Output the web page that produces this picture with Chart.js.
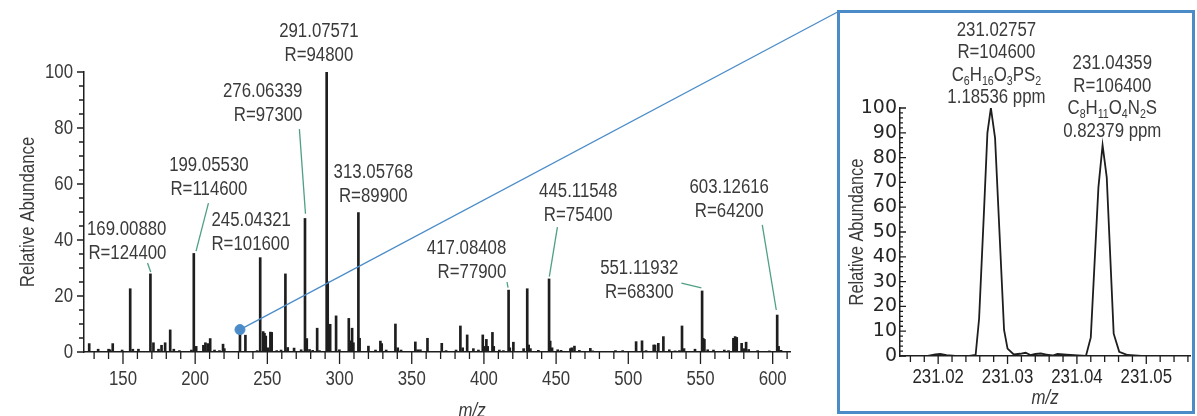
<!DOCTYPE html>
<html>
<head>
<meta charset="utf-8">
<script src="https://cdn.jsdelivr.net/npm/chart.js@4.4.1/dist/chart.umd.min.js"></script>
<style>
  html, body { margin: 0; padding: 0; background: #fff; }
  #wrap { position: relative; width: 1197px; height: 416px; overflow: hidden; }
  #spectrum { position: absolute; left: 0; top: 0; }
  #insetBox { position: absolute; left: 837px; top: 10px; width: 352px; height: 398px; border: 3px solid #4b8cc8; background: #fff; }
  #inset { display: block; }
</style>
</head>
<body>
<div id="wrap">
  <canvas id="spectrum" width="1197" height="416"></canvas>
  <div id="insetBox"><canvas id="inset" width="352" height="398"></canvas></div>
</div>
<script>
const SANS = '"Liberation Sans", Arial, sans-serif';
const WIDE = '"DejaVu Sans", sans-serif';
const SQUEEZE = 0.82; // Arial squeezed to a narrow face
const INK = '#1e1e1e';
const TEXT = '#3a3a3a';
const BLUE = '#4b8cc8';
const GREEN = '#4f9f86';

// full scan, centroid sticks (m/z, relative abundance)
const peakMz = [
  126.6, 132.8, 140.0, 141.0, 142.9, 149.4, 155.0, 156.8, 160.7, 169.0088,
  171.1, 174.6, 176.7, 179.2, 182.7, 185.2, 189.1, 197.4, 199.0553, 200.7,
  205.7, 207.1, 208.7, 210.4, 213.4, 216.8, 219.3, 220.2, 231.03, 234.8,
  242.9, 245.0432, 247.1, 248.0, 248.9, 250.3, 252.1, 253.0, 256.5, 259.5,
  262.5, 264.1, 268.5, 273.4, 276.0634, 277.3, 279.2, 281.4, 284.5, 286.1,
  291.0757, 291.8, 293.5, 297.6, 299.9, 306.4, 307.4, 308.7, 309.6, 313.0577,
  313.9, 320.0, 324.9, 328.3, 329.2, 332.3, 338.7, 340.3, 342.6, 352.5,
  354.1, 356.0, 360.9, 370.8, 373.8, 380.7, 383.7, 385.3, 388.4, 392.7,
  396.2, 399.2, 400.1, 401.7, 402.6, 405.9, 406.8, 410.7, 413.5, 417.0841,
  417.9, 420.4, 427.5, 430.0, 431.0, 432.2, 437.7, 445.1155, 445.9, 447.2,
  451.1, 453.4, 459.9, 460.8, 462.7, 466.1, 473.7, 475.3, 491.1, 496.1,
  505.4, 509.5, 512.3, 517.6, 518.5, 520.8, 524.3, 528.4, 532.4, 535.4,
  537.2, 538.6, 546.2, 551.1193, 551.9, 552.7, 555.0, 559.0, 566.5, 569.4,
  572.8, 574.0, 575.1, 578.5, 580.0, 581.6, 583.4, 589.6, 597.7, 603.1262,
  604.1, 605.8
];
const peakAbundance = [
  3.0, 1.0, 1.0, 0.8, 3.0, 0.7, 22.6, 1.0, 1.0, 27.9,
  3.3, 1.0, 2.4, 3.3, 7.9, 1.0, 0.5, 0.7, 35.2, 2.0,
  2.4, 3.3, 3.0, 4.8, 0.7, 0.5, 2.8, 1.2, 8.0, 6.0,
  0.5, 33.7, 7.3, 6.7, 5.7, 1.5, 7.1, 7.0, 0.5, 0.7,
  27.9, 1.6, 1.4, 0.8, 47.7, 4.8, 0.9, 0.6, 8.5, 0.5,
  100, 25.0, 9.9, 12.9, 0.8, 12.0, 4.0, 8.5, 3.3, 49.8,
  4.9, 2.1, 0.7, 3.9, 3.0, 0.7, 10.0, 1.5, 0.7, 3.6,
  0.8, 0.8, 4.9, 3.1, 0.5, 0.7, 9.3, 1.5, 6.1, 1.2,
  0.7, 6.1, 2.0, 4.5, 2.0, 7.0, 2.0, 0.7, 0.5, 22.1,
  1.5, 3.5, 1.2, 22.6, 2.5, 1.2, 0.6, 26.1, 3.9, 1.5,
  0.8, 0.6, 1.2, 1.5, 2.1, 0.6, 1.3, 0.4, 0.5, 0.5,
  3.7, 4.0, 0.5, 2.5, 2.5, 3.1, 5.5, 0.8, 0.4, 0.5,
  9.3, 1.2, 1.0, 21.8, 4.9, 4.5, 0.8, 0.7, 0.7, 0.5,
  4.9, 5.5, 5.2, 3.1, 1.2, 3.5, 0.9, 0.5, 0.4, 13.2,
  2.0, 0.6
];
const zoomMz = 231.03; // stick that the inset zooms into

// labelled peaks
const labelMasses = ['169.00880', '199.05530', '245.04321', '276.06339', '291.07571',
                     '313.05768', '417.08408', '445.11548', '551.11932', '603.12616'];
const labelResolution = [124400, 114600, 101600, 97300, 94800, 89900, 77900, 75400, 68300, 64200];

// inset: profile around m/z 231
const profileMz = [
  231.0145, 231.0185, 231.0196, 231.0203, 231.0212, 231.0225, 231.0245, 231.0254, 231.0259, 231.0266,
  231.0271, 231.0276, 231.0282, 231.0295, 231.0300, 231.0309, 231.0318, 231.0326, 231.0333, 231.0340,
  231.0348, 231.0356, 231.0365, 231.0372, 231.0385, 231.0396, 231.0413, 231.0420, 231.0431, 231.0437,
  231.0443, 231.0453, 231.0461, 231.0473, 231.0493, 231.0563
];
const profileAbundance = [
  0, 0, 0.6, 0.8, 0.3, 0, 0, 0.4, 15, 58,
  90, 100, 88, 10.5, 3, 0.6, 0.9, 1.3, 0.4, 0.8,
  1.0, 0.6, 0.2, 0.8, 0.5, 0.3, 0, 7.5, 68, 85,
  72, 9, 1.7, 0.4, 0, 0
];
const insetMasses = ['231.02757', '231.04359'];
const insetResolution = [104600, 106400];
const insetFormula = ['C6H16O3PS2', 'C8H11O4N2S'];
const insetPpm = ['1.18536 ppm', '0.82379 ppm'];

// where the annotation text sits (data units) and leader lines
const labelLayout = [
  { x: 180.1, y: 43.9, align: 'right', leader: [167.0, 31.8, 169.2, 28.6] },
  { x: 209.5, y: 66.8, align: 'center', leader: [209.2, 53.2, 200.6, 36.0] },
  { x: 211.3, y: 47.1, align: 'left' },
  { x: 274.3, y: 93.2, align: 'right', leader: [272.2, 79.6, 276.4, 49.4] },
  { x: 285.7, y: 114.6, align: 'center' },
  { x: 323.4, y: 64.3, align: 'center' },
  { x: 415.5, y: 37.1, align: 'right', leader: [416.0, 25.0, 416.7, 23.0] },
  { x: 465.3, y: 57.5, align: 'center', leader: [450.9, 44.6, 445.3, 26.9] },
  { x: 507.6, y: 30.0, align: 'center', leader: [536.8, 24.6, 550.6, 22.9] },
  { x: 569.9, y: 58.9, align: 'center', leader: [592.8, 45.4, 602.5, 15.0] }
];
const insetLayout = [
  { x: 231.0284, y: 131.5 },
  { x: 231.0451, y: 118.0 }
];

function isMultiple(v, step) {
  const r = v / step;
  return Math.abs(r - Math.round(r)) < 1e-6;
}

// text squeezed horizontally (narrow face)
function narrowText(ctx, text, x, y, align, size, opts) {
  opts = opts || {};
  const sq = opts.squeeze || SQUEEZE;
  ctx.save();
  ctx.translate(x, y);
  ctx.scale(sq, 1);
  ctx.font = `${opts.style || 'normal'} ${size}px ${opts.family || SANS}`;
  ctx.textAlign = align;
  ctx.fillText(text, 0, 0);
  ctx.restore();
}

// text line; digits of a chemical formula are drawn as subscripts
function drawTextLine(ctx, text, x, y, align, size) {
  const formula = /^[A-Z][A-Za-z0-9]*$/.test(text) && /\d/.test(text);
  if (!formula) {
    narrowText(ctx, text, x, y, align, size);
    return;
  }
  const parts = text.match(/\d+|\D+/g);
  const sizeFor = p => /\d/.test(p) ? Math.round(size * 0.62) : size;
  const widthOf = p => { ctx.font = `${sizeFor(p)}px ${SANS}`; return ctx.measureText(p).width * SQUEEZE; };
  const total = parts.reduce((s, p) => s + widthOf(p), 0);
  let cx = align === 'center' ? x - total / 2 : align === 'right' ? x - total : x;
  parts.forEach(p => {
    const w = widthOf(p);
    narrowText(ctx, p, cx, /\d/.test(p) ? y + size * 0.3 : y, 'left', sizeFor(p));
    cx += w;
  });
}

// tick marks and tick labels drawn off the chart's own scales
function axisDecor(id, cfg) {
  return {
    id: id,
    afterDraw(chart) {
      const { ctx, scales: { x, y } } = chart;
      ctx.save();
      ctx.strokeStyle = INK;
      ctx.lineWidth = 1.3;
      ctx.beginPath();
      x.ticks.forEach(t => {
        if (t.value < x.min || t.value > x.max) return;
        const px = x.getPixelForValue(t.value);
        const len = isMultiple(t.value, cfg.xMajor) ? cfg.xMajorLen : cfg.xMinorLen;
        ctx.moveTo(px, x.top);
        ctx.lineTo(px, x.top + len);
      });
      y.ticks.forEach(t => {
        const py = y.getPixelForValue(t.value);
        const len = isMultiple(t.value, cfg.yMajor) ? cfg.yMajorLen : cfg.yMinorLen;
        ctx.moveTo(y.right, py);
        ctx.lineTo(y.right + len * cfg.yDir, py);
      });
      ctx.stroke();

      ctx.textBaseline = 'middle';
      ctx.fillStyle = cfg.labelColor || TEXT;
      x.ticks.forEach(t => {
        if (t.value < x.min || t.value > x.max || !isMultiple(t.value, cfg.xMajor)) return;
        narrowText(ctx, cfg.xFormat(t.value), x.getPixelForValue(t.value), x.top + cfg.xLabelGap, 'center', cfg.xSize);
      });
      y.ticks.forEach(t => {
        if (!isMultiple(t.value, cfg.yMajor)) return;
        narrowText(ctx, String(t.value), y.right - cfg.yLabelGap, y.getPixelForValue(t.value), 'right', cfg.ySize, cfg.yFont);
      });
      ctx.restore();
    }
  };
}

const spectrumLabels = {
  id: 'spectrumLabels',
  afterDraw(chart) {
    const { ctx, scales: { x, y }, chartArea } = chart;
    ctx.save();
    ctx.textBaseline = 'middle';
    ctx.fillStyle = TEXT;
    labelLayout.forEach((l, i) => {
      const px = x.getPixelForValue(l.x);
      const py = y.getPixelForValue(l.y);
      drawTextLine(ctx, labelMasses[i], px, py, l.align, 20.5);
      drawTextLine(ctx, 'R=' + labelResolution[i], px, py + 24, l.align, 20.5);
      if (l.leader) {
        ctx.strokeStyle = GREEN;
        ctx.lineWidth = 1.3;
        ctx.beginPath();
        ctx.moveTo(x.getPixelForValue(l.leader[0]), y.getPixelForValue(l.leader[1]));
        ctx.lineTo(x.getPixelForValue(l.leader[2]), y.getPixelForValue(l.leader[3]));
        ctx.stroke();
      }
    });
    // axis titles
    ctx.save();
    ctx.translate(28, (chartArea.top + chartArea.bottom) / 2);
    ctx.rotate(-Math.PI / 2);
    narrowText(ctx, 'Relative Abundance', 0, 0, 'center', 20.5);
    ctx.restore();
    narrowText(ctx, 'm/z', 472, 411, 'center', 20.5, { style: 'italic' });
    ctx.restore();
  }
};

// blue line from the zoomed stick to the inset frame
const zoomLink = {
  id: 'zoomLink',
  afterDatasetDraw(chart, args) {
    if (args.index !== 0) return;
    const { ctx, scales: { x, y } } = chart;
    const box = document.getElementById('insetBox').getBoundingClientRect();
    const c = chart.canvas.getBoundingClientRect();
    const i = peakMz.indexOf(zoomMz);
    ctx.save();
    ctx.strokeStyle = BLUE;
    ctx.lineWidth = 1.3;
    ctx.beginPath();
    ctx.moveTo(x.getPixelForValue(zoomMz), y.getPixelForValue(peakAbundance[i]));
    ctx.lineTo(box.left - c.left + 1.5, box.top - c.top + 1.5);
    ctx.stroke();
    ctx.restore();
  }
};

new Chart(document.getElementById('spectrum'), {
  data: {
    datasets: [
      {
        type: 'bar',
        data: peakMz.map((m, i) => ({ x: m, y: peakAbundance[i] })),
        backgroundColor: INK,
        barThickness: 2,
        order: 2
      },
      {
        type: 'scatter',
        data: [{ x: zoomMz, y: peakAbundance[peakMz.indexOf(zoomMz)] }],
        backgroundColor: BLUE,
        borderColor: BLUE,
        pointRadius: 5,
        order: 1
      }
    ]
  },
  options: {
    responsive: false,
    animation: false,
    events: [],
    layout: { padding: { top: 72, right: 407, left: 0, bottom: 0 } },
    plugins: { legend: { display: false }, tooltip: { enabled: false } },
    scales: {
      x: {
        type: 'linear', min: 123, max: 612, offset: false,
        grid: { display: false },
        border: { display: true, color: INK, width: 1.5 },
        ticks: { display: false, stepSize: 10, includeBounds: false, autoSkip: false },
        afterFit: s => { s.height = 64; }
      },
      y: {
        min: 0, max: 100,
        grid: { display: false },
        border: { display: true, color: INK, width: 1.5 },
        ticks: { display: false, stepSize: 5 },
        afterFit: s => { s.width = 84; }
      }
    }
  },
  plugins: [zoomLink, spectrumLabels,
    axisDecor('spectrumAxes', {
      xMajor: 50, xMajorLen: 12, xMinorLen: 7, xLabelGap: 27.5, xSize: 20.5, xFormat: v => String(v),
      yMajor: 20, yMajorLen: 7, yMinorLen: 5, yDir: -1, yLabelGap: 11, ySize: 20.5
    })]
});

const insetLabels = {
  id: 'insetLabels',
  afterDraw(chart) {
    const { ctx, scales: { x, y }, chartArea } = chart;
    ctx.save();
    ctx.textBaseline = 'middle';
    ctx.fillStyle = TEXT;
    insetLayout.forEach((l, i) => {
      const px = x.getPixelForValue(l.x);
      const py = y.getPixelForValue(l.y);
      const lines = [insetMasses[i], 'R=' + insetResolution[i], insetFormula[i], insetPpm[i]];
      lines.forEach((t, k) => drawTextLine(ctx, t, px, py + k * 22.5, 'center', 20.5));
    });
    ctx.save();
    ctx.translate(17, (chartArea.top + chartArea.bottom) / 2);
    ctx.rotate(-Math.PI / 2);
    narrowText(ctx, 'Relative Abundance', 0, 0, 'center', 20);
    ctx.restore();
    narrowText(ctx, 'm/z', (chartArea.left + chartArea.right) / 2, 385, 'center', 20.5, { style: 'italic' });
    ctx.restore();
  }
};

new Chart(document.getElementById('inset'), {
  type: 'line',
  data: {
    datasets: [{
      data: profileMz.map((m, i) => ({ x: m, y: profileAbundance[i] })),
      borderColor: INK,
      borderWidth: 1.8,
      pointRadius: 0,
      tension: 0
    }]
  },
  options: {
    responsive: false,
    animation: false,
    events: [],
    layout: { padding: { top: 95, right: 2, left: 0, bottom: 0 } },
    plugins: { legend: { display: false }, tooltip: { enabled: false } },
    scales: {
      x: {
        type: 'linear', min: 231.0145, max: 231.0563,
        grid: { display: false },
        border: { display: true, color: INK, width: 1.5 },
        ticks: { display: false, stepSize: 0.002, includeBounds: false, autoSkip: false },
        afterFit: s => { s.height = 55; }
      },
      y: {
        min: 0, max: 100,
        grid: { display: false },
        border: { display: true, color: INK, width: 1.5 },
        ticks: { display: false, stepSize: 2 },
        afterFit: s => { s.width = 60; }
      }
    }
  },
  plugins: [insetLabels,
    axisDecor('insetAxes', {
      xMajor: 0.01, xMajorLen: 8, xMinorLen: 6, xLabelGap: 21, xSize: 20.5, xFormat: v => v.toFixed(2),
      yMajor: 10, yMajorLen: 6, yMinorLen: 3, yDir: 1, yLabelGap: 3, ySize: 19,
      yFont: { family: WIDE, squeeze: 1 }, labelColor: '#262626'
    })]
});
</script>
</body>
</html>
